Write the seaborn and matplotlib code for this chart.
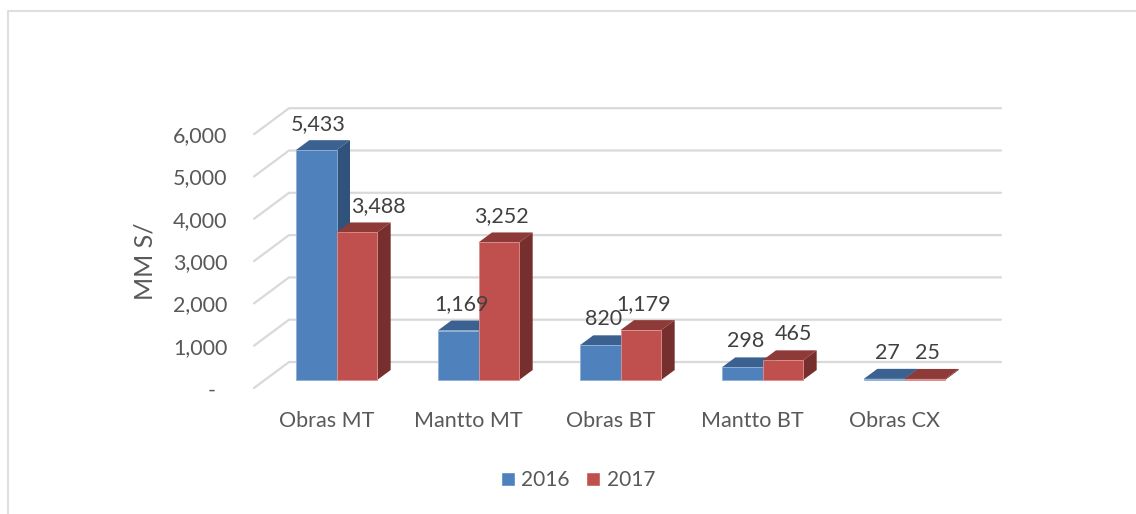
import pandas as pd
import seaborn as sns
import matplotlib.pyplot as plt
from matplotlib.lines import Line2D
from matplotlib.patches import Polygon
from matplotlib.transforms import ScaledTranslation

categories = ["Obras MT", "Mantto MT", "Obras BT", "Mantto BT", "Obras CX"]
values_2016 = [5433, 1169, 820, 298, 27]
values_2017 = [3488, 3252, 1179, 465, 25]
y_ticks = [0, 1000, 2000, 3000, 4000, 5000, 6000]
y_tick_labels = ["-", "1,000", "2,000", "3,000", "4,000", "5,000", "6,000"]

W, H = 1136, 514
PX_X = 142.0      # pixels per category
PX_Y = 0.0423     # pixels per MM S/
LEFT, BASE = 265.5, 380

sns.set_theme(style="white")
plt.rcParams["font.family"] = ["Lato", "DejaVu Sans"]

df = pd.DataFrame({
    "cat": categories * 2,
    "val": values_2016 + values_2017,
    "year": ["2016"] * 5 + ["2017"] * 5,
})

fig = plt.figure(figsize=(W / 100, H / 100), dpi=100)
ax = fig.add_axes([LEFT / W, 1 - BASE / H, PX_X * 5 / W, PX_Y * 6000 / H])
ax.patch.set_alpha(0)

sns.barplot(data=df, x="cat", y="val", hue="year", palette=["#4F81BD", "#C0504D"],
            width=0.573, gap=0, saturation=1, errorbar=None, ax=ax)
ax.set_xlim(-0.5, 4.5)
ax.set_ylim(0, 6000)
sns.despine(ax=ax, left=True, bottom=True)
ax.set_xlabel("")


def dx(px):
    return px / PX_X


def dy(px):
    return px / PX_Y


#3d walls: gridlines go from front plane to back wall then across
for v in y_ticks:
    ax.plot([-0.5 + dx(254 - LEFT), -0.5 + dx(289 - LEFT), -0.5 + dx(1001 - LEFT)],
            [v - dy(8), v + dy(18), v + dy(18)],
            color="#D9D9D9", lw=1.6, clip_on=False, zorder=1)

#3d bars: top and side faces worked out from each bar
top_colors = ["#3A6190", "#8E3A38"]
side_colors = ["#31527A", "#772F2D"]
edge_colors = ["#8FB0DA", "#DB8F8D"]
for i, cont in enumerate(ax.containers):
    for bar in cont:
        x0 = bar.get_x()
        x1 = x0 + bar.get_width()
        h = bar.get_height()
        ddx, ddy = dx(13.5), dy(10)
        ax.add_patch(Polygon([(x0, h), (x1, h), (x1 + ddx, h + ddy), (x0 + ddx, h + ddy)],
                             color=top_colors[i], lw=0, clip_on=False, zorder=2 + 2 * i))
        ax.add_patch(Polygon([(x1, 0), (x1 + ddx, ddy), (x1 + ddx, h + ddy), (x1, h)],
                             color=side_colors[i], lw=0, clip_on=False, zorder=2 + 2 * i))
        bar.set_zorder(3 + 2 * i)
        bar.set_edgecolor(edge_colors[i])
        bar.set_linewidth(0.6)
        bar.set_clip_on(False)

#data labels, a couple moved by hand like in the original
nudge = {(0, 0): -1, (1, 0): 19, (1, 3): 8}
for i, cont in enumerate(ax.containers):
    for j, bar in enumerate(cont):
        ax.annotate(f"{bar.get_height():,.0f}",
                    (bar.get_x() + bar.get_width() / 2, bar.get_height()),
                    xytext=(3 + nudge.get((i, j), 0), 26), textcoords="offset pixels",
                    ha="center", va="center", fontsize=15.5, color="#404040",
                    annotation_clip=False, zorder=10)

#ticks
ax.set_yticks(y_ticks)
ax.set_yticklabels(y_tick_labels)
ax.tick_params(axis="both", length=0, labelsize=15.5, labelcolor="#595959")
ax.tick_params(axis="y", pad=27.5)
ax.set_xticks(range(5))
ax.set_xticklabels(categories)
off_y = ScaledTranslation(0, -8 / 100, fig.dpi_scale_trans)
off_dash = ScaledTranslation(-12 / 100, -9 / 100, fig.dpi_scale_trans)
off_x = ScaledTranslation(-10 / 100, -26 / 100, fig.dpi_scale_trans)
for lab in ax.get_yticklabels():
    if lab.get_text() == "-":
        lab.set_transform(lab.get_transform() + off_dash)
    else:
        lab.set_transform(lab.get_transform() + off_y)
for lab in ax.get_xticklabels():
    lab.set_transform(lab.get_transform() + off_x)

ax.set_ylabel("")
fig.text(145 / W, 1 - 261 / H, "MM S/", rotation=90, ha="center", va="center",
         fontsize=18, color="#595959")

#legend
handles, labels = ax.get_legend_handles_labels()
ax.legend(handles, labels, loc="center", bbox_to_anchor=(578 / W, 1 - 480 / H),
          bbox_transform=fig.transFigure, ncol=2, frameon=False, fontsize=15,
          labelcolor="#595959", handlelength=0.67, handleheight=0.67,
          handletextpad=0.3, columnspacing=0.8)

#outer chart border, only top and left are visible
fig.add_artist(Line2D([7.5 / W, 7.5 / W, 1], [0, 1 - 11 / H, 1 - 11 / H],
                      color="#DEDEDE", lw=1.5))

fig.savefig("out.png", dpi=100)
